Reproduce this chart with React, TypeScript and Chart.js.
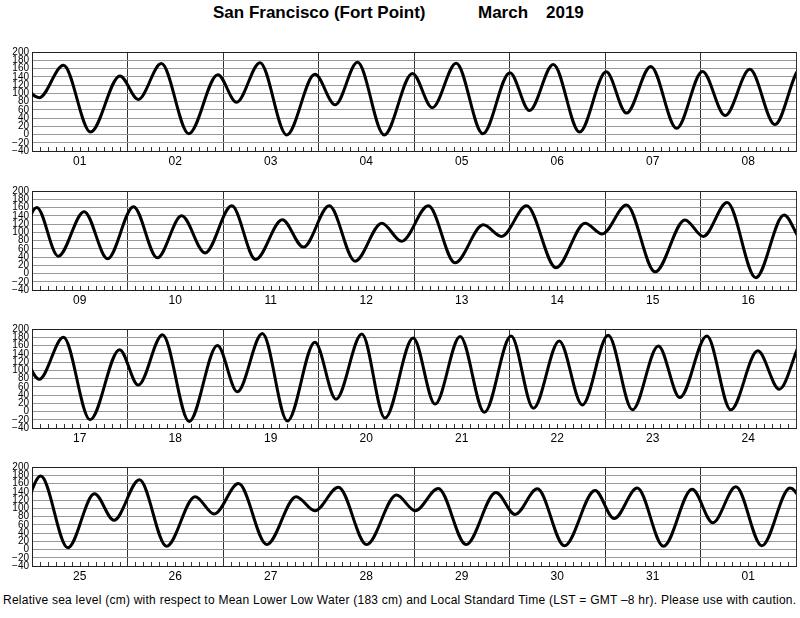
import React, { useEffect, useRef } from 'react';
import { Chart, registerables } from 'chart.js';

Chart.register(...registerables);

// Tide extremes: hours from 2019-03-01 00:00 LST, and sea level in cm (MLLW)
const extremeHours = [
  -4.0, 1.8, 7.9, 14.7, 22.1, 26.7, 32.5, 39.4, 46.7, 51.4, 57.3, 64.0, 71.1, 76.2, 81.8, 88.5,
  95.6, 100.6, 106.6, 113.3, 120.1, 125.0, 131.0, 137.6, 144.3, 149.4, 155.5, 162.0, 168.5, 174.2,
  180.4, 186.7,
  193.2, 198.6, 205.1, 211.0, 217.5, 223.5, 229.6, 235.5, 242.2, 248.2, 254.9, 260.2, 266.7, 273.2,
  279.9, 284.9, 291.6, 298.3, 305.4, 310.0, 316.3, 323.7, 331.0, 335.3, 341.4, 348.6, 356.1, 360.7,
  366.7, 373.9, 381.0,
  385.8, 391.9, 398.6, 406.0, 410.7, 416.8, 423.5, 430.6, 435.6, 441.9, 448.2, 455.1, 460.4, 466.9,
  472.7, 479.8, 485.3, 491.6, 497.7, 504.4, 510.0, 516.5, 522.3, 528.8, 534.9, 541.4, 546.8, 553.6,
  559.6, 566.4, 571.8,
  578.2, 585.0, 591.7, 596.6, 603.0, 609.8, 617.0, 621.8, 627.9, 635.0, 642.4, 647.1, 653.0, 660.1,
  667.6, 672.3, 678.1, 685.1, 692.6, 697.4, 703.0, 709.8, 717.5, 722.3, 728.1, 734.7, 741.9, 747.1,
  752.9, 759.4, 766.5, 771.5,
];

const extremeLevels = [
  145, 89, 168, 6, 142, 85, 172, 2, 145, 78, 174, -1, 146, 72, 175, -1,
  148, 65, 173, 2, 150, 58, 170, 6, 152, 52, 165, 15, 153, 46,
  158, 24,
  160, 42, 150, 36, 162, 38, 140, 50, 164, 34, 130, 64, 164, 30,
  122, 78, 164, 26, 118, 90, 164, 14, 122, 96, 166, 4, 130, 90,
  172, -10, 142,
  78, 180, -20, 150, 64, 186, -24, 160, 48, 189, -23, 168, 30, 188,
  -16, 178, 18, 182, -2, 183, 8, 171, 16, 185, 4, 159, 34, 183,
  4, 147, 54,
  178, 4, 135, 71, 169, 8, 128, 86, 160, 12, 128, 94, 151, 12,
  132, 94, 148, 12, 138, 85, 147, 9, 143, 75, 149, 8, 146, 65,
  152, 9, 149, 80,
];

const dayLabels = [
  '01', '02', '03', '04', '05', '06', '07', '08',
  '09', '10', '11', '12', '13', '14', '15', '16',
  '17', '18', '19', '20', '21', '22', '23', '24',
  '25', '26', '27', '28', '29', '30', '31', '01',
];

const panelFirstDay = [0, 8, 16, 24];
const daysPerPanel = 8;
const levelMin = -40;
const levelMax = 200;
const levelStep = 20;

const panelTops = [51, 190, 328, 466];
const FONT = '"Liberation Sans", Arial, Helvetica, sans-serif';

const hourTicks = {
  id: 'hourTicks',
  beforeDatasetsDraw(chart: any) {
    const { ctx, chartArea } = chart;
    const x = chart.scales.x;
    ctx.save();
    ctx.strokeStyle = '#333';
    ctx.lineWidth = 1;
    ctx.beginPath();
    for (let h = x.min + 2; h < x.max; h += 2) {
      if (h % 24 === 0) continue;
      const px = Math.round(x.getPixelForValue(h)) + 0.5;
      ctx.moveTo(px, chartArea.bottom);
      ctx.lineTo(px, chartArea.bottom - 4);
    }
    ctx.stroke();
    ctx.restore();
  },
};

function makeConfig(panel: number): any {
  const start = panelFirstDay[panel] * 24;
  const end = start + daysPerPanel * 24;
  const points = extremeHours.map((h, i) => ({ x: h, y: extremeLevels[i] }));
  return {
    type: 'line',
    data: {
      datasets: [
        {
          data: points,
          borderColor: '#000',
          borderWidth: 3,
          pointRadius: 0,
          fill: false,
          cubicInterpolationMode: 'monotone',
          capBezierPoints: false,
          clip: 0,
        },
      ],
    },
    plugins: [hourTicks],
    options: {
      animation: false,
      responsive: false,
      maintainAspectRatio: false,
      events: [],
      layout: { padding: { top: 8, right: 4, left: 0, bottom: 0 } },
      plugins: {
        legend: { display: false },
        tooltip: { enabled: false },
        title: { display: false },
      },
      scales: {
        x: {
          type: 'linear',
          afterDataLimits: (s: any) => {
            s.min = start;
            s.max = end;
          },
          afterFit: (s: any) => {
            s.height = 24;
          },
          ticks: {
            stepSize: 12,
            autoSkip: false,
            maxRotation: 0,
            minRotation: 0,
            padding: 3,
            color: '#000',
            font: { family: FONT, size: 12 },
            callback: (v: number) => {
              const rel = v - start;
              if (rel % 24 !== 12) return '';
              return dayLabels[panelFirstDay[panel] + (rel - 12) / 24];
            },
          },
          grid: {
            drawTicks: false,
            lineWidth: 1,
            color: (c: any) =>
              c.tick && c.tick.value % 24 === 0 ? '#333' : 'rgba(0,0,0,0)',
          },
          border: { display: true, color: '#222', width: 1 },
        },
        y: {
          min: levelMin,
          max: levelMax,
          afterFit: (s: any) => {
            s.width = 32;
          },
          ticks: {
            stepSize: levelStep,
            autoSkip: false,
            padding: 3,
            color: '#000',
            font: { family: FONT, size: 10 },
            callback: (v: number) => (v < 0 ? '\u2212' + Math.abs(v) : String(v)),
          },
          grid: {
            drawTicks: false,
            lineWidth: 1,
            color: (c: any) =>
              c.tick && (c.tick.value === levelMax || c.tick.value === levelMin)
                ? '#222'
                : '#999',
          },
          border: { display: true, color: '#222', width: 1 },
        },
      },
    },
  };
}

export default function App() {
  const canvases = useRef<(HTMLCanvasElement | null)[]>([]);

  useEffect(() => {
    document.body.style.margin = '0';
    const charts = panelTops.map((_, i) => new Chart(canvases.current[i] as HTMLCanvasElement, makeConfig(i)));
    return () => charts.forEach((c) => c.destroy());
  }, []);

  return (
    <div
      style={{
        position: 'relative',
        width: 800,
        height: 618,
        background: '#fff',
        color: '#000',
        fontFamily: FONT,
        overflow: 'hidden',
      }}
    >
      <div style={{ position: 'absolute', left: 213, top: 4, fontSize: 17, lineHeight: '17px', fontWeight: 'bold', whiteSpace: 'nowrap' }}>
        San Francisco (Fort Point)
      </div>
      <div style={{ position: 'absolute', left: 478, top: 4, fontSize: 17, lineHeight: '17px', fontWeight: 'bold', whiteSpace: 'nowrap' }}>
        March
      </div>
      <div style={{ position: 'absolute', left: 546, top: 4, fontSize: 17, lineHeight: '17px', fontWeight: 'bold', whiteSpace: 'nowrap' }}>
        2019
      </div>
      {panelTops.map((t, i) => (
        <canvas
          key={i}
          ref={(el) => {
            canvases.current[i] = el;
          }}
          width={800}
          height={132}
          style={{ position: 'absolute', left: 0, top: t - 8, width: 800, height: 132 }}
        />
      ))}
      <div style={{ position: 'absolute', left: 3, top: 594, fontSize: 12, lineHeight: '12px', letterSpacing: '0.25px', whiteSpace: 'nowrap' }}>
        Relative sea level (cm) with respect to Mean Lower Low Water (183 cm) and Local Standard Time (LST = GMT –8 hr). Please use with caution.
      </div>
    </div>
  );
}
